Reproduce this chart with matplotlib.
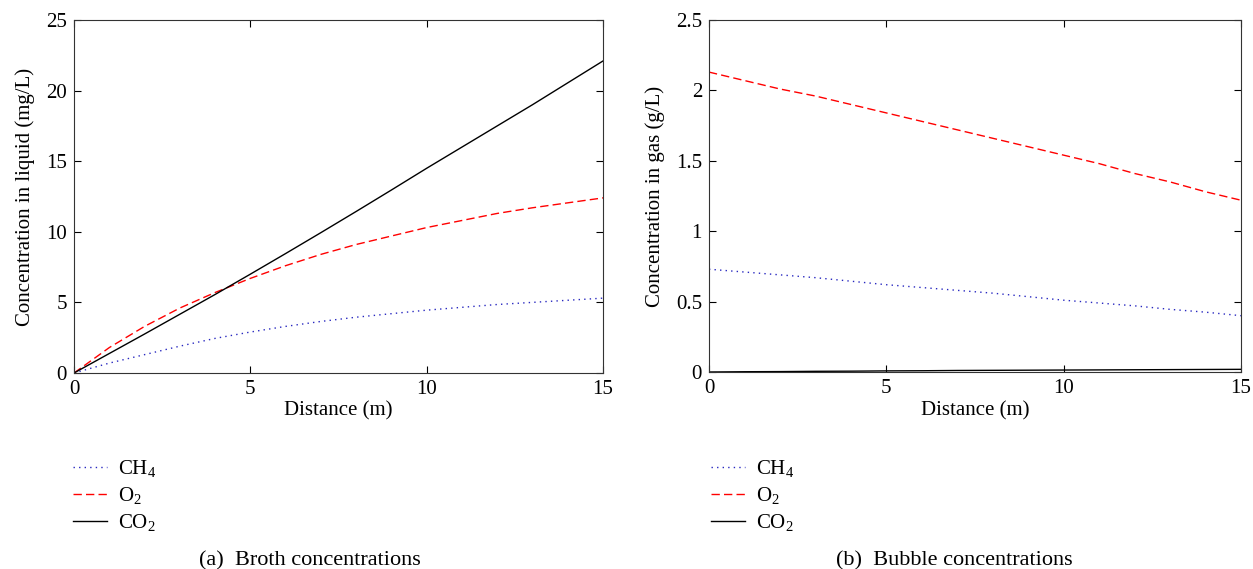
import matplotlib
matplotlib.use('Agg')
import matplotlib.pyplot as plt

plt.rcParams['font.family'] = ['Liberation Serif', 'DejaVu Serif']
plt.rcParams['mathtext.fontset'] = 'custom'
plt.rcParams['mathtext.rm'] = 'Liberation Serif'

# distance (m)
dist = [0, 1, 2, 3, 4, 5, 6, 7, 8, 9, 10, 11, 12, 13, 14, 15]

# (a) broth concentrations, mg/L
liq_ch4 = [0, 0.7, 1.3, 1.9, 2.45, 2.9, 3.3, 3.65, 3.95, 4.2, 4.45, 4.65, 4.85, 5.0, 5.15, 5.3]
liq_o2 = [0, 1.8, 3.3, 4.6, 5.7, 6.7, 7.6, 8.4, 9.1, 9.7, 10.3, 10.8, 11.3, 11.7, 12.05, 12.4]
liq_co2 = [0, 1.38, 2.76, 4.16, 5.56, 7.0, 8.46, 9.94, 11.44, 12.96, 14.5, 16.0, 17.5, 19.0, 20.55, 22.1]

# (b) bubble concentrations, g/L
gas_ch4 = [0.73, 0.71, 0.69, 0.67, 0.645, 0.62, 0.60, 0.58, 0.56, 0.535, 0.51, 0.49, 0.47, 0.445, 0.425, 0.40]
gas_o2 = [2.13, 2.07, 2.01, 1.96, 1.90, 1.84, 1.78, 1.72, 1.66, 1.60, 1.54, 1.48, 1.41, 1.35, 1.28, 1.22]
gas_co2 = [0, 0.002, 0.003, 0.005, 0.006, 0.008, 0.009, 0.011, 0.012, 0.013, 0.014, 0.015, 0.016, 0.017, 0.018, 0.019]

names = ['CH$_\\mathrm{4}$', 'O$_\\mathrm{2}$', 'CO$_\\mathrm{2}$']

fig = plt.figure(figsize=(12.53, 5.69), dpi=100)
ax1 = fig.add_axes([0.0591, 0.3445, 0.4222, 0.6204])
ax2 = fig.add_axes([0.5658, 0.3462, 0.4246, 0.6187])

def draw(ax, ch4, o2, co2):
    h1, = ax.plot(dist, ch4, color='#2828c0', linestyle=(0, (1, 3)), linewidth=1.0)
    h2, = ax.plot(dist, o2, color='#ff0000', linestyle=(0, (6, 3)), linewidth=1.0)
    h3, = ax.plot(dist, co2, color='black', linestyle='-', linewidth=1.0)
    ax.set_xlim(0, 15)
    ax.set_xticks([0, 5, 10, 15])
    ax.tick_params(direction='in', top=True, right=True, length=5, labelsize=15, pad=5)
    ax.set_xlabel('Distance (m)', fontsize=15, labelpad=2)
    for s in ax.spines.values():
        s.set_color('#333333')
    return [h1, h2, h3]

hs1 = draw(ax1, liq_ch4, liq_o2, liq_co2)
ax1.set_ylim(0, 25)
ax1.set_yticks([0, 5, 10, 15, 20, 25])
ax1.set_ylabel('Concentration in liquid (mg/L)', fontsize=15, labelpad=8)

hs2 = draw(ax2, gas_ch4, gas_o2, gas_co2)
ax2.set_ylim(0, 2.5)
ax2.set_yticks([0, 0.5, 1, 1.5, 2, 2.5])
ax2.set_yticklabels(['0', '0.5', '1', '1.5', '2', '2.5'])
ax2.set_ylabel('Concentration in gas (g/L)', fontsize=15, labelpad=8)

for hs, x0 in [(hs1, 0.058), (hs2, 0.5674)]:
    fig.legend(hs, names, loc='upper left', bbox_to_anchor=(x0, 0.195), bbox_transform=fig.transFigure,
               frameon=False, fontsize=15, handlelength=1.63, handletextpad=0.55,
               labelspacing=0.27, borderpad=0, borderaxespad=0)

fig.text(0.247, 0.007, '(a)  Broth concentrations', fontsize=16, ha='center', va='baseline')
fig.text(0.762, 0.007, '(b)  Bubble concentrations', fontsize=16, ha='center', va='baseline')

fig.savefig('out.png', dpi=100)
